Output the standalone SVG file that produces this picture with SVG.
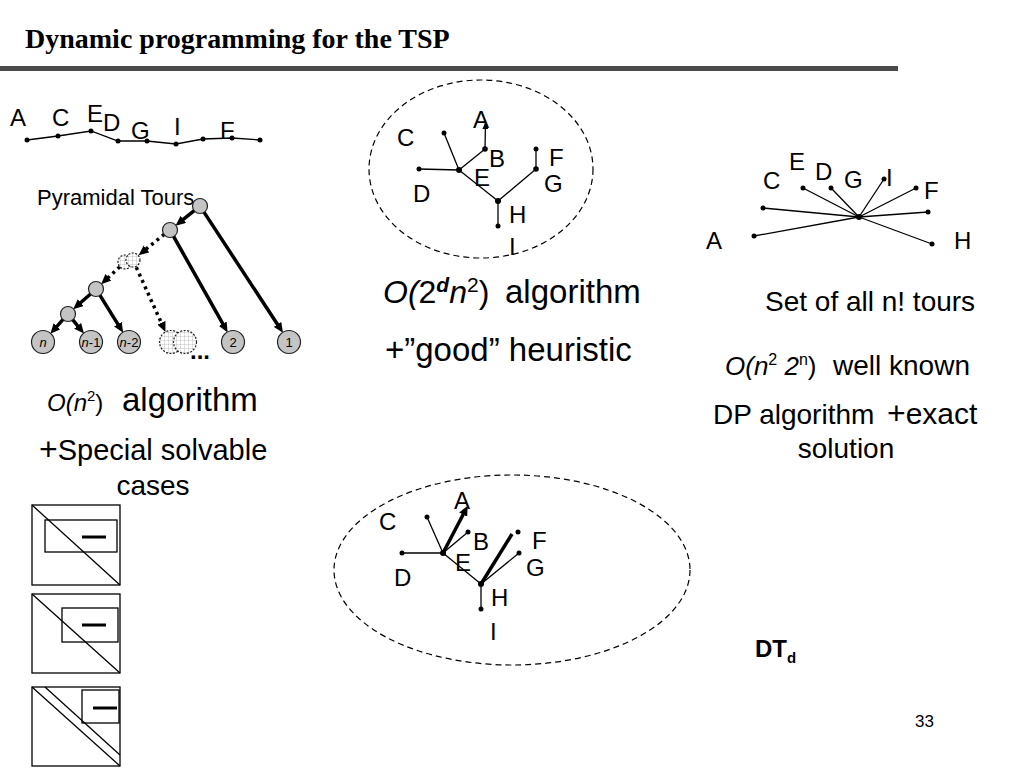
<svg xmlns="http://www.w3.org/2000/svg" width="1024" height="768" viewBox="0 0 1024 768">
<defs>
<style>
.lbl{font-family:"Liberation Sans",Arial,sans-serif;font-size:24px;fill:#000}
.big{font-family:"Liberation Sans",Arial,sans-serif;fill:#000}
.thin{stroke:#000;stroke-width:1.3;fill:none}
.thick{stroke:#000;stroke-width:3.5;fill:none}
.dot{fill:#000}
.gnode{fill:#c4c4c4;stroke:#222;stroke-width:1.2}
.hnode{fill:url(#hatch);stroke:#222;stroke-width:1.2;stroke-dasharray:2 1.5}
.dotted{stroke:#000;stroke-width:3.5;stroke-dasharray:3 4;fill:none}
.ell{fill:none;stroke:#000;stroke-width:1.2;stroke-dasharray:6 4}
.box{fill:none;stroke:#000;stroke-width:1.3}
.leaf{font-family:"Liberation Sans",Arial,sans-serif;font-size:13px;fill:#000}
</style>
<pattern id="hatch" width="4" height="4" patternUnits="userSpaceOnUse">
<rect width="4" height="4" fill="#fff"/>
<path d="M0,0 H4 M0,0 V4" stroke="#999" stroke-width="0.6"/>
</pattern>
<marker id="ah" viewBox="0 -4.5 10 9" refX="4" refY="0" markerWidth="10" markerHeight="9" markerUnits="userSpaceOnUse" orient="auto">
<path d="M0,-4.5 L10,0 L0,4.5 z" fill="#000"/>
</marker>
<marker id="ahs" viewBox="0 -3 7 6" refX="7" refY="0" markerWidth="7" markerHeight="6" markerUnits="userSpaceOnUse" orient="auto">
<path d="M0,-3 L7,0 L0,3 z" fill="#000"/>
</marker>
</defs>
<rect width="1024" height="768" fill="#fff"/>

<!-- title -->
<g id="title">
<text x="25" y="48" font-family="'Liberation Serif','Times New Roman',serif" font-weight="bold" font-size="28">Dynamic programming for the TSP</text>
<rect x="0" y="66" width="898" height="5" fill="#4a4a4a"/>
</g>

<!-- tour line -->
<g id="tour">
<polyline class="thin" points="27,140 58,136 91,131 118,141 147,141 176,144 203,139 232,138 260,140"/>
<g class="dot">
<circle cx="27" cy="140" r="2.5"/><circle cx="58" cy="136" r="2.5"/><circle cx="91" cy="131" r="2.5"/>
<circle cx="118" cy="141" r="2.5"/><circle cx="147" cy="141" r="2.5"/><circle cx="176" cy="144" r="2.5"/>
<circle cx="203" cy="139" r="2.5"/><circle cx="232" cy="138" r="2.5"/><circle cx="260" cy="140" r="2.5"/>
</g>
<text class="lbl" x="10" y="126">A</text>
<text class="lbl" x="52" y="126">C</text>
<text class="lbl" x="87" y="122">E</text>
<text class="lbl" x="103" y="131">D</text>
<text class="lbl" x="131" y="139">G</text>
<text class="lbl" x="174" y="135">I</text>
<text class="lbl" x="220" y="139">F</text>
</g>

<!-- pyramidal tours -->
<g id="pyramidal">
<text x="37" y="205" class="big" font-size="22">Pyramidal Tours</text>
<g id="pyr-edges">
<line class="thick" x1="194.5" y1="210.4" x2="180.2" y2="221.9" marker-end="url(#ah)"/>
<line class="thick" x1="203.8" y1="211.9" x2="279.7" y2="327.8" marker-end="url(#ah)"/>
<line class="dotted" x1="164.4" y1="234.2" x2="143.3" y2="251.4" marker-end="url(#ah)"/>
<line class="thick" x1="173.4" y1="236.1" x2="224.7" y2="327.2" marker-end="url(#ah)"/>
<line class="dotted" x1="119.9" y1="266.8" x2="105.5" y2="280.1" marker-end="url(#ah)"/>
<line class="dotted" x1="136.3" y1="267.3" x2="163" y2="326.5" marker-end="url(#ah)"/>
<line class="thick" x1="90.8" y1="293.7" x2="77.7" y2="305.3" marker-end="url(#ah)"/>
<line class="thick" x1="99.7" y1="294.9" x2="120" y2="327.6" marker-end="url(#ah)"/>
<line class="thick" x1="63.3" y1="319.2" x2="54.3" y2="329.3" marker-end="url(#ah)"/>
<line class="thick" x1="72.4" y1="319.4" x2="80.2" y2="328.9" marker-end="url(#ah)"/>
</g>
<circle class="gnode" cx="200" cy="206" r="7.5"/>
<circle class="gnode" cx="170" cy="230" r="7.5"/>
<circle class="hnode" cx="125" cy="262" r="7"/>
<circle class="hnode" cx="133" cy="260" r="7"/>
<circle class="gnode" cx="96" cy="289" r="7.5"/>
<circle class="gnode" cx="68" cy="314" r="7.5"/>
<circle class="gnode" cx="43" cy="342" r="11.5"/>
<circle class="gnode" cx="91" cy="342" r="11.5"/>
<circle class="gnode" cx="129" cy="342" r="11.5"/>
<circle class="hnode" cx="171" cy="342" r="11.5"/>
<circle class="hnode" cx="185" cy="342" r="11.5"/>
<circle class="gnode" cx="233" cy="342" r="11.5"/>
<circle class="gnode" cx="289" cy="342" r="11.5"/>
<text class="leaf" x="43" y="347" text-anchor="middle" font-style="italic">n</text>
<text class="leaf" x="91" y="347" text-anchor="middle"><tspan font-style="italic">n</tspan>-1</text>
<text class="leaf" x="129" y="347" text-anchor="middle"><tspan font-style="italic">n</tspan>-2</text>
<text class="leaf" x="233" y="347" text-anchor="middle">2</text>
<text class="leaf" x="289" y="347" text-anchor="middle">1</text>
<text class="big" x="190" y="359" font-size="24" font-weight="bold">...</text>
</g>

<!-- left texts -->
<g id="left-text">
<text class="big" y="411"><tspan x="47" font-size="24" font-style="italic">O(n</tspan><tspan font-size="15" dy="-10">2</tspan><tspan font-size="24" dy="10">)</tspan><tspan x="122" font-size="33">algorithm</tspan></text>
<text class="big" y="460" font-size="29"><tspan x="39" font-size="32">+</tspan>Special solvable</text>
<text class="big" x="153" y="495" font-size="28" text-anchor="middle">cases</text>
</g>

<!-- matrices -->
<g id="matrix1">
<rect class="box" x="32" y="505" width="88" height="80"/>
<line class="box" x1="32" y1="505" x2="120" y2="585"/>
<rect class="box" x="45" y="520" width="72" height="32"/>
<line x1="82" y1="537" x2="106" y2="537" stroke="#000" stroke-width="3"/>
</g>
<g id="matrix2">
<rect class="box" x="32" y="594" width="88" height="79"/>
<line class="box" x1="32" y1="594" x2="120" y2="673"/>
<rect class="box" x="62" y="608" width="56" height="34"/>
<line x1="82" y1="625" x2="106" y2="625" stroke="#000" stroke-width="3"/>
</g>
<g id="matrix3">
<rect class="box" x="32" y="687" width="88" height="79"/>
<line class="box" x1="32" y1="687" x2="120" y2="766"/>
<line class="box" x1="45" y1="687" x2="120" y2="755"/>
<rect class="box" x="82" y="690" width="37" height="33"/>
<line x1="93" y1="708" x2="117" y2="708" stroke="#000" stroke-width="3"/>
</g>

<!-- top middle tree -->
<g id="tree-top">
<ellipse class="ell" cx="481" cy="169" rx="112" ry="89"/>
<line class="thin" x1="459" y1="170" x2="419" y2="169"/>
<line class="thin" x1="459" y1="170" x2="444" y2="133"/>
<line class="thin" x1="459" y1="170" x2="485" y2="149"/>
<line class="thin" x1="485" y1="149" x2="485.5" y2="122" marker-end="url(#ahs)"/>
<line class="thin" x1="459" y1="170" x2="498" y2="201"/>
<line class="thin" x1="498" y1="201" x2="536" y2="169"/>
<line class="thin" x1="536" y1="169" x2="536" y2="149"/>
<line class="thin" x1="498" y1="201" x2="498" y2="226"/>
<g class="dot">
<circle cx="419" cy="169" r="2.5"/><circle cx="444" cy="133" r="2.5"/><circle cx="485" cy="149" r="2.8"/>
<circle cx="459" cy="170" r="3"/><circle cx="498" cy="201" r="3"/><circle cx="536" cy="169" r="2.8"/>
<circle cx="536" cy="149" r="2.5"/><circle cx="498" cy="226" r="2.5"/>
</g>
<text class="lbl" x="397" y="146">C</text>
<text class="lbl" x="473" y="128">A</text>
<text class="lbl" x="489" y="167">B</text>
<text class="lbl" x="474" y="186">E</text>
<text class="lbl" x="413" y="202">D</text>
<text class="lbl" x="549" y="166">F</text>
<text class="lbl" x="544" y="192">G</text>
<text class="lbl" x="509" y="223">H</text>
<text class="lbl" x="509" y="255">I</text>
</g>

<g id="mid-text">
<text class="big" y="303" font-size="32"><tspan x="383" font-style="italic">O(</tspan><tspan>2</tspan><tspan font-size="21" font-weight="bold" font-style="italic" dy="-11">d</tspan><tspan dy="11" font-style="italic">n</tspan><tspan font-size="21" dy="-11">2</tspan><tspan dy="11">)</tspan><tspan x="505" font-size="33">algorithm</tspan></text>
<text class="big" x="385" y="361" font-size="33">+”good” heuristic</text>
</g>

<!-- right star -->
<g id="star">
<g class="thin">
<line x1="859" y1="217" x2="803" y2="188"/>
<line x1="859" y1="217" x2="831" y2="188"/>
<line x1="859" y1="217" x2="884" y2="179"/>
<line x1="859" y1="217" x2="916" y2="188"/>
<line x1="859" y1="217" x2="763" y2="208"/>
<line x1="859" y1="217" x2="928" y2="212"/>
<line x1="859" y1="217" x2="754" y2="236"/>
<line x1="859" y1="217" x2="932" y2="244"/>
</g>
<g class="dot">
<circle cx="859" cy="217" r="3"/>
<circle cx="803" cy="188" r="2.5"/><circle cx="831" cy="188" r="2.5"/><circle cx="884" cy="179" r="2.5"/>
<circle cx="916" cy="188" r="2.5"/><circle cx="763" cy="208" r="2.5"/><circle cx="928" cy="212" r="2.5"/>
<circle cx="754" cy="236" r="2.5"/><circle cx="932" cy="244" r="2.5"/>
</g>
<text class="lbl" x="763" y="189">C</text>
<text class="lbl" x="789" y="170">E</text>
<text class="lbl" x="815" y="180">D</text>
<text class="lbl" x="844" y="188">G</text>
<text class="lbl" x="886" y="186">I</text>
<text class="lbl" x="924" y="199">F</text>
<text class="lbl" x="706" y="249">A</text>
<text class="lbl" x="954" y="249">H</text>
</g>

<g id="right-text">
<text class="big" x="765" y="311" font-size="28">Set of all n! tours</text>
<text class="big" y="375"><tspan x="725" font-size="26" font-style="italic">O(n</tspan><tspan font-size="16" dy="-10">2</tspan><tspan font-size="26" font-style="italic" dy="10"> 2</tspan><tspan font-size="16" dy="-10">n</tspan><tspan font-size="26" dy="10">)</tspan><tspan x="833" font-size="28">well known</tspan></text>
<text class="big" y="424" font-size="28"><tspan x="713">DP algorithm</tspan><tspan x="887" font-size="32">+</tspan><tspan font-size="30">exact</tspan></text>
<text class="big" x="846" y="458" font-size="28" text-anchor="middle">solution</text>
</g>

<!-- bottom tree -->
<g id="tree-bottom">
<ellipse class="ell" cx="512" cy="570" rx="178" ry="95"/>
<line class="thin" x1="443" y1="553" x2="402" y2="553"/>
<line class="thin" x1="443" y1="553" x2="427" y2="517"/>
<line class="thin" x1="443" y1="553" x2="468" y2="532"/>
<line class="thick" x1="443" y1="553" x2="465" y2="511" marker-end="url(#ah)"/>
<line class="thin" x1="443" y1="553" x2="481" y2="584"/>
<line class="thin" x1="481" y1="584" x2="519" y2="553"/>
<line class="thick" x1="481" y1="584" x2="512" y2="534"/>
<line class="thin" x1="481" y1="584" x2="481" y2="609"/>
<g class="dot">
<circle cx="402" cy="553" r="2.5"/><circle cx="427" cy="517" r="2.5"/><circle cx="468" cy="532" r="2.5"/>
<circle cx="443" cy="553" r="3"/><circle cx="481" cy="584" r="3"/><circle cx="518" cy="532" r="2.5"/>
<circle cx="519" cy="553" r="2.5"/><circle cx="481" cy="609" r="2.5"/>
</g>
<text class="lbl" x="379" y="530">C</text>
<text class="lbl" x="454" y="509">A</text>
<text class="lbl" x="473" y="550">B</text>
<text class="lbl" x="455" y="571">E</text>
<text class="lbl" x="394" y="586">D</text>
<text class="lbl" x="532" y="549">F</text>
<text class="lbl" x="526" y="576">G</text>
<text class="lbl" x="491" y="606">H</text>
<text class="lbl" x="490" y="640">I</text>
</g>

<g id="dtd">
<text class="big" x="755" y="657" font-size="24" font-weight="bold">DT<tspan font-size="15" dy="6">d</tspan></text>
</g>
<text class="big" x="915" y="727" font-size="17">33</text>
</svg>
